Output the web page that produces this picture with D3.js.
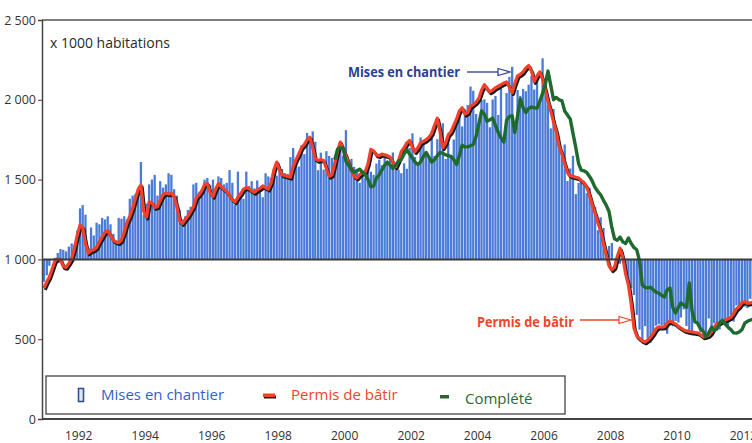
<!DOCTYPE html>
<html><head><meta charset="utf-8">
<script src="https://cdn.jsdelivr.net/npm/d3@7/dist/d3.min.js"></script>
<style>
html,body{margin:0;padding:0;background:#fff;}
svg{display:block;}
text{font-family:"Open Sans","Noto Sans",sans-serif;}
</style></head>
<body>
<svg id="c" width="752" height="443"></svg>
<script>
// ---- data (x 1000 units, monthly, starting Jan 1991) ----
const firstMonth = [1991, 0];
const starts = [
 860, 900, 960,1000,1010,1040,1065,1060,1050,1080,1100,1090,
1180,1320,1340,1280,1070,1200,1150,1230,1220,1260,1250,1270,
1220,1160,1100,1260,1255,1270,1250,1380,1400,1410,1390,1610,
1280,1350,1470,1500,1530,1400,1490,1450,1470,1540,1530,1440,
1400,1310,1250,1270,1310,1330,1470,1480,1420,1400,1500,1510,
1467,1500,1440,1520,1510,1470,1480,1560,1480,1340,1550,1420,
1380,1550,1460,1490,1445,1495,1440,1390,1540,1520,1510,1566,
1525,1584,1567,1540,1536,1641,1698,1614,1582,1715,1660,1792,
1742,1802,1737,1559,1669,1563,1678,1648,1635,1608,1648,1708,
1650,1810,1610,1630,1580,1560,1480,1550,1510,1560,1550,1530,
1600,1625,1590,1649,1605,1636,1670,1567,1562,1540,1602,1568,
1698,1790,1642,1592,1764,1717,1655,1633,1804,1648,1753,1788,
1853,1629,1726,1643,1751,1867,1897,1833,1939,1967,2083,2057,
1911,1846,1998,2003,1981,1828,2002,2024,1905,2072,1782,2042,
2144,2207,1864,2061,2025,2068,2054,2095,2151,2065,2147,1994,
2260,2119,1969,1821,1942,1802,1737,1650,1720,1491,1570,1649,
1409,1480,1495,1490,1415,1448,1354,1330,1183,1264,1197,1037,
1084,1103,1005,1013, 973,1046, 923, 844, 820, 777, 652, 560,
 490, 582, 505, 478, 540, 585, 594, 586, 585, 534, 588, 581,
 614, 604, 636, 687, 583, 536, 546, 599, 594, 543, 545, 539,
 630, 517, 600, 554, 561, 608, 623, 585, 650, 610, 711, 694,
 723, 704, 695, 753, 708];

const permits = [
 820, 860, 890, 940, 990,1005,1000, 955, 950, 975,1005,1070,
1150,1215,1200,1100,1040,1055,1060,1075,1110,1140,1170,1180,
1150,1120,1110,1105,1120,1170,1230,1270,1320,1380,1440,1465,
1300,1265,1360,1355,1325,1330,1370,1405,1415,1410,1415,1395,
1330,1240,1225,1250,1270,1300,1330,1385,1405,1430,1470,1475,
1420,1395,1440,1475,1455,1440,1425,1400,1375,1360,1390,1410,
1440,1450,1445,1430,1420,1435,1445,1460,1450,1440,1480,1560,
1610,1560,1530,1525,1520,1515,1580,1625,1660,1700,1720,1750,
1765,1700,1630,1620,1625,1620,1570,1520,1530,1600,1680,1735,
1690,1650,1600,1560,1520,1510,1530,1545,1550,1600,1690,1680,
1655,1650,1660,1655,1650,1640,1610,1580,1620,1675,1700,1730,
1745,1700,1675,1700,1730,1740,1750,1765,1790,1840,1885,1800,
1700,1730,1780,1800,1840,1880,1930,1950,1910,1920,1960,1970,
1985,2010,2060,2095,2070,2050,2060,2075,2085,2095,2105,2112,
2080,2045,2100,2150,2160,2175,2200,2215,2180,2115,2150,2175,
2130,2060,1990,1930,1860,1800,1710,1660,1600,1545,1525,1520,
1515,1510,1495,1480,1455,1400,1340,1290,1230,1180,1100,1030,
 960, 935, 950,1020,1070,1010, 910, 840, 720, 570, 520, 505,
 490, 482, 495, 512, 535, 565, 578, 575, 578, 600, 615, 605,
 595, 580, 570, 558, 552, 548, 545, 542, 540, 530, 515, 518,
 525, 545, 575, 598, 605, 615, 620, 628, 638, 660, 690, 705,
 730, 735, 725, 728, 730];

// completions start in Oct 1999 (month index 105)
const completionsStartIndex = 105;
const completions = [
                                                  1625,1690,1700,
1695,1615,1590,1560,1545,1555,1565,1545,1530,1500,1455,1460,
1510,1530,1560,1590,1610,1590,1570,1590,1615,1625,1660,1685,
1660,1635,1610,1595,1610,1645,1670,1640,1610,1625,1650,1670,
1665,1655,1650,1645,1625,1595,1650,1715,1705,1705,1712,1720,
1770,1850,1930,1910,1865,1875,1885,1840,1795,1760,1735,1870,
1895,1900,1795,1900,2005,1950,1920,1945,1955,1950,1948,1990,
2040,2100,2180,2090,2000,2015,2000,1995,1930,1905,1880,1790,
1700,1600,1560,1555,1545,1520,1490,1450,1425,1405,1370,1340,
1300,1200,1130,1120,1140,1110,1100,1134,1100,1075,1060, 990,
 840, 825, 822, 826, 810, 795, 788, 775, 764, 810, 820, 700,
 665, 700, 727, 715, 700, 852, 680, 610, 600, 565, 550, 515,
 540, 575, 555, 565, 600, 618, 595, 575, 560, 540, 538, 545,
 560, 600, 612, 620, 625];

const baselineValue = 1000;
const yTicks = [0, 500, 1000, 1500, 2000, 2500];
const yearTicks = [1992,1994,1996,1998,2000,2002,2004,2006,2008,2010,2012];
const unitLabel = "x 1000 habitations";
const legendLabels = ["Mises en chantier", "Permis de bâtir", "Complété"];
const annotStarts = "Mises en chantier";
const annotPermits = "Permis de bâtir";

// ---- drawing ----
(function draw() {
const svg = d3.select("#c");
const W = 752;
const pLeft = 42, pTop = 20, pBottom = 419;

const monthDate = i => new Date(firstMonth[0], firstMonth[1] + i, 1);
const x = d3.scaleTime()
  .domain([monthDate(0), monthDate(264)])
  .range([44, 44 + 264 * 2.77]);
const y = d3.scaleLinear().domain([0, 2500]).range([pBottom, pTop]);

svg.append("defs").append("clipPath").attr("id", "plot")
  .append("rect").attr("x", pLeft).attr("y", pTop).attr("width", W - pLeft).attr("height", pBottom - pTop);

const plot = svg.append("g").attr("clip-path", "url(#plot)");

// bars from the 1000 baseline
const startsData = starts.map((v, i) => ({d: monthDate(i), v}));
const bw = 2.3;
plot.append("g").selectAll("rect").data(startsData).join("rect")
  .attr("x", d => x(d.d) - bw / 2)
  .attr("width", bw)
  .attr("y", d => Math.min(y(d.v), y(baselineValue)))
  .attr("height", d => Math.abs(y(d.v) - y(baselineValue)))
  .attr("fill", "#4b7bd7");

// baseline
svg.append("line").attr("x1", pLeft).attr("x2", W)
  .attr("y1", y(baselineValue)).attr("y2", y(baselineValue))
  .attr("stroke", "#3a3a3a").attr("stroke-width", 2);

const line = d3.line().x(d => x(d.d)).y(d => y(d.v));
const permitsData = permits.map((v, i) => ({d: monthDate(i), v}));
const complData = completions.map((v, i) => ({d: monthDate(i + completionsStartIndex), v}));

// permits: black shadow + red
plot.append("path").datum(permitsData).attr("d", line)
  .attr("fill", "none").attr("stroke", "#1a1a1a").attr("stroke-width", 3.2)
  .attr("stroke-linejoin", "round").attr("transform", "translate(1.2,1.8)");
plot.append("path").datum(permitsData).attr("d", line)
  .attr("fill", "none").attr("stroke", "#f2402b").attr("stroke-width", 3.2)
  .attr("stroke-linejoin", "round");

// completions: green
plot.append("path").datum(complData).attr("d", line)
  .attr("fill", "none").attr("stroke", "#1f6a2e").attr("stroke-width", 3.4)
  .attr("stroke-linejoin", "round");

// frame
svg.append("line").attr("x1", pLeft).attr("x2", W).attr("y1", pTop).attr("y2", pTop)
  .attr("stroke", "#555").attr("stroke-width", 1.5);
svg.append("line").attr("x1", pLeft).attr("x2", W).attr("y1", pBottom).attr("y2", pBottom)
  .attr("stroke", "#444").attr("stroke-width", 2);

const fmt = d3.formatLocale({decimal: ",", thousands: " ", grouping: [3], currency: ["", ""]}).format(",");
const yAxis = svg.append("g").attr("transform", `translate(${pLeft},0)`)
  .call(d3.axisLeft(y).tickValues(yTicks).tickFormat(fmt).tickSize(4).tickPadding(2));
yAxis.select(".domain").attr("stroke", "#444").attr("stroke-width", 1.5);
yAxis.selectAll(".tick line").attr("stroke", "#444");
yAxis.selectAll(".tick text").attr("fill", "#333").style("font-size", "12.5px")
  .style("font-family", "'Open Sans','Noto Sans',sans-serif");

const xAxis = svg.append("g").attr("transform", `translate(0,${pBottom})`)
  .call(d3.axisBottom(x).tickValues(yearTicks.map(yr => new Date(yr, 0, 1)))
    .tickFormat(d3.timeFormat("%Y")).tickSize(0).tickPadding(12));
xAxis.select(".domain").remove();
xAxis.selectAll(".tick text").attr("fill", "#333").attr("dx", "1px").style("font-size", "12px")
  .style("font-family", "'Open Sans','Noto Sans',sans-serif");

// unit label
svg.append("text").attr("x", 50).attr("y", 48).text(unitLabel)
  .attr("fill", "#2a2a2a").style("font-size", "14.5px")
  .attr("textLength", 120).attr("lengthAdjust", "spacingAndGlyphs");

// annotations
const ann = svg.append("g").style("font-family", "'Liberation Sans Narrow','Open Sans',sans-serif")
  .style("font-weight", "bold");
ann.append("text").attr("x", 348).attr("y", 77).text(annotStarts)
  .attr("fill", "#2d3f92").style("font-size", "15px")
  .attr("textLength", 112).attr("lengthAdjust", "spacingAndGlyphs");
ann.append("line").attr("x1", 467).attr("x2", 498).attr("y1", 72).attr("y2", 72)
  .attr("stroke", "#2d3f92").attr("stroke-width", 1.3);
ann.append("path").attr("d", "M498,68.5 L510,72 L498,75.5 Z")
  .attr("fill", "#fff").attr("stroke", "#2d3f92").attr("stroke-width", 1.2);

ann.append("text").attr("x", 477).attr("y", 327).text(annotPermits)
  .attr("fill", "#f0452a").style("font-size", "15px")
  .attr("textLength", 97).attr("lengthAdjust", "spacingAndGlyphs");
ann.append("line").attr("x1", 580).attr("x2", 619).attr("y1", 320).attr("y2", 320)
  .attr("stroke", "#f0452a").attr("stroke-width", 1.3);
ann.append("path").attr("d", "M619,316.5 L631,320 L619,323.5 Z")
  .attr("fill", "#fff").attr("stroke", "#f0452a").attr("stroke-width", 1.2);

// legend
const lg = svg.append("g");
lg.append("rect").attr("x", 46).attr("y", 376).attr("width", 519).attr("height", 38)
  .attr("fill", "#fff").attr("stroke", "#444").attr("stroke-width", 1.3);
lg.append("rect").attr("x", 78.5).attr("y", 388.5).attr("width", 5).attr("height", 13)
  .attr("fill", "#dfe7f8").attr("stroke", "#34508f").attr("stroke-width", 1.6);
lg.append("text").attr("x", 101).attr("y", 400).text(legendLabels[0])
  .attr("fill", "#2f62c6").style("font-size", "15px");
lg.append("rect").attr("x", 264).attr("y", 395.5).attr("width", 12).attr("height", 3)
  .attr("fill", "#1a1a1a");
lg.append("rect").attr("x", 263).attr("y", 393.5).attr("width", 12).attr("height", 3.5)
  .attr("fill", "#f2402b");
lg.append("text").attr("x", 291).attr("y", 400).text(legendLabels[1])
  .attr("fill", "#f0452a").style("font-size", "15px");
lg.append("rect").attr("x", 440).attr("y", 395).attr("width", 9).attr("height", 3.5)
  .attr("fill", "#1f6a2e");
lg.append("text").attr("x", 465).attr("y", 404).text(legendLabels[2])
  .attr("fill", "#2a6a35").style("font-size", "15px");
})();
</script>
</body></html>
